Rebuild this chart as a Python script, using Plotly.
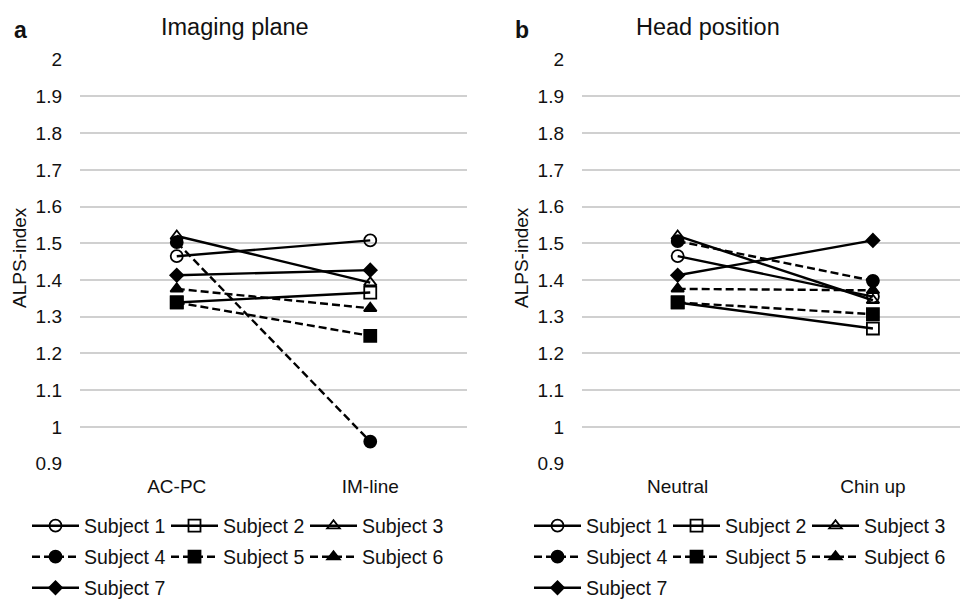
import plotly.graph_objects as go

# ---- data ----
subjects = ["Subject 1", "Subject 2", "Subject 3", "Subject 4", "Subject 5", "Subject 6", "Subject 7"]
plane_categories = ["AC-PC", "IM-line"]
head_categories = ["Neutral", "Chin up"]

acpc = [1.465, 1.339, 1.520, 1.503, 1.339, 1.376, 1.413]
imline = [1.508, 1.366, 1.393, 0.960, 1.248, 1.323, 1.427]
neutral = [1.465, 1.339, 1.520, 1.506, 1.339, 1.376, 1.413]
chinup = [1.355, 1.268, 1.345, 1.398, 1.307, 1.372, 1.508]

ytickvals = [2.0, 1.9, 1.8, 1.7, 1.6, 1.5, 1.4, 1.3, 1.2, 1.1, 1.0, 0.9]
yticktext = ["2", "1.9", "1.8", "1.7", "1.6", "1.5", "1.4", "1.3", "1.2", "1.1", "1", "0.9"]

# ---- styles ----
symbols = ["circle-open", "square-open", "triangle-up-open", "circle", "square", "triangle-up", "diamond"]
sizes = [12, 12, 11, 12, 12, 11, 10]
dashes = ["solid", "solid", "solid", "8px,4px", "8px,4px", "8px,4px", "solid"]
FONT = "Liberation Sans, Arial, sans-serif"
W, H = 960, 601

def row_legend(i):
    return 0 if i < 3 else (1 if i < 6 else 2)

fig = go.Figure()

panels = [
    (plane_categories, acpc, imline, "x", "y", 0),
    (head_categories, neutral, chinup, "x2", "y2", 3),
]
for cats, v0, v1, xa, ya, legoff in panels:
    for i, name in enumerate(subjects):
        leg_idx = legoff + row_legend(i) + 1
        fig.add_trace(go.Scatter(
            x=cats, y=[v0[i], v1[i]], name=name, mode="lines+markers",
            xaxis=xa, yaxis=ya,
            line=dict(color="black", width=2.4, dash=dashes[i]),
            marker=dict(symbol=symbols[i], size=sizes[i], color="black",
                        line=dict(color="black", width=1.8)),
            legend="legend" if leg_idx == 1 else f"legend{leg_idx}",
            showlegend=True,
        ))

def px_x(p):
    return p / W

def px_y(p):
    return 1 - p / H

ydom = [px_y(464), px_y(59)]
axis_font = dict(family=FONT, size=19, color="#111")

yaxis_common = dict(
    range=[0.899, 2.002], tickvals=ytickvals, ticktext=yticktext,
    showgrid=True, gridcolor="#d0d0d0", gridwidth=1.5, zeroline=False,
    showline=False, ticks="", tickfont=axis_font, domain=ydom, ticklabelstandoff=17,
)
xaxis_common = dict(type="category", showgrid=False, zeroline=False, showline=False,
                    ticks="", tickfont=axis_font, ticklabelstandoff=9)

legend_common = dict(orientation="h", xanchor="left", yanchor="middle",
                     bgcolor="rgba(0,0,0,0)", borderwidth=0,
                     font=dict(family=FONT, size=19.5, color="#111"),
                     itemwidth=47, entrywidth=77, tracegroupgap=0)

row_y = [526, 557, 588]
legend_x = [27, 529]
legends = {}
for p in range(2):
    for r in range(3):
        k = p * 3 + r + 1
        key = "legend" if k == 1 else f"legend{k}"
        legends[key] = dict(legend_common, x=px_x(legend_x[p]), y=px_y(row_y[r]))

def ann(text, x, y, size, angle=0):
    return dict(text=text, x=px_x(x), y=px_y(y), xref="paper", yref="paper",
                xanchor="center", yanchor="middle", showarrow=False, textangle=angle,
                font=dict(family=FONT, size=size, color="#111"))

annotations = [
    ann("Imaging plane", 235, 27, 23.5),
    ann("Head position", 708, 27, 23.5),
    ann("<b>a</b>", 20, 30, 23),
    ann("<b>b</b>", 522, 30, 23),
    ann("ALPS-index", 19, 258, 19, -90),
    ann("ALPS-index", 521, 258, 19, -90),
]

fig.update_layout(
    width=W, height=H, autosize=False,
    margin=dict(l=0, r=0, t=0, b=0, autoexpand=False),
    paper_bgcolor="white", plot_bgcolor="white",
    xaxis=dict(xaxis_common, domain=[px_x(80), px_x(467)], range=[-0.5, 1.5], anchor="y"),
    yaxis=dict(yaxis_common, anchor="x"),
    xaxis2=dict(xaxis_common, domain=[px_x(582), 1.0], range=[-0.49, 1.446], anchor="y2"),
    yaxis2=dict(yaxis_common, anchor="x2"),
    annotations=annotations,
    **legends,
)

fig.write_html("out.html", config={"displayModeBar": False},
               post_script="document.body.style.margin='0';")
